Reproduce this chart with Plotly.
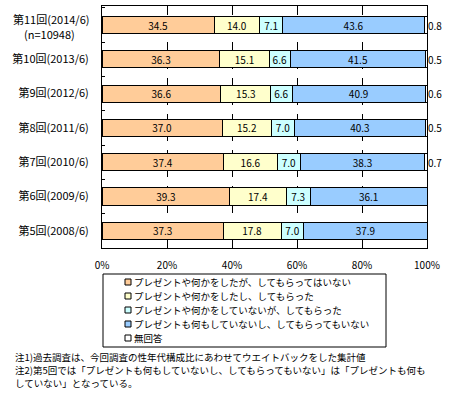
import plotly.graph_objects as go

categories = ["第11回(2014/6)", "第10回(2013/6)", "第9回(2012/6)",
              "第8回(2011/6)", "第7回(2010/6)", "第6回(2009/6)", "第5回(2008/6)"]
sample_size_label = "(n=10948)"
series_names = ["プレゼントや何かをしたが、してもらってはいない",
                "プレゼントや何かをしたし、してもらった",
                "プレゼントや何かをしていないが、してもらった",
                "プレゼントも何もしていないし、してもらってもいない",
                "無回答"]
gave_only = [34.5, 36.3, 36.6, 37.0, 37.4, 39.3, 37.3]
both = [14.0, 15.1, 15.3, 15.2, 16.6, 17.4, 17.8]
received_only = [7.1, 6.6, 6.6, 7.0, 7.0, 7.3, 7.0]
neither = [43.6, 41.5, 40.9, 40.3, 38.3, 36.1, 37.9]
no_answer = [0.8, 0.5, 0.6, 0.5, 0.7, None, None]
x_ticks = [0, 20, 40, 60, 80, 100]
x_ticktext = ["0%", "20%", "40%", "60%", "80%", "100%"]
notes = ["注1)過去調査は、今回調査の性年代構成比にあわせてウエイトバックをした集計値",
         "注2)第5回では「プレゼントも何もしていないし、してもらってもいない」は「プレゼントも何も",
         "していない」となっている。"]

colors = ["#FFCC99", "#FFFFCC", "#CCFFFF", "#99CCFF", "#FFFFFF"]
FONT = "Noto Sans CJK JP"

W, H = 451, 399
L, R, T, B = 102, 427, 6, 248


def px(x):
    return (x - L) / (R - L)


def py(y):
    return (B - y) / (B - T)


fig = go.Figure()
all_series = [gave_only, both, received_only, neither, no_answer]
for i, (name, vals) in enumerate(zip(series_names, all_series)):
    is_last = i == len(all_series) - 1
    fig.add_trace(go.Bar(
        y=categories, x=vals, name=name, orientation="h",
        marker=dict(color=colors[i], line=dict(color="black", width=1)),
        text=None if is_last else [f"{v:.1f}" for v in vals],
        textposition="inside", insidetextanchor="middle", textangle=0,
        textfont=dict(family=FONT, size=10, color="black"),
        showlegend=False, hoverinfo="x+name",
    ))

annotations = []
for cat, v in zip(categories, no_answer):
    if v is not None:
        annotations.append(dict(x=100, y=cat, xref="x", yref="y", text=f"{v:.1f}",
                                showarrow=False, xanchor="left", xshift=-1,
                                font=dict(family=FONT, size=10, color="black")))

# two-line label of the first (latest) survey
annotations.append(dict(x=px(91), y=categories[0], xref="paper", yref="y", text=categories[0],
                        showarrow=False, xanchor="right", yanchor="middle", yshift=6,
                        font=dict(family=FONT, size=11, color="black")))
annotations.append(dict(x=px(49), y=categories[0], xref="paper", yref="y", text=sample_size_label,
                        showarrow=False, xanchor="center", yanchor="middle", yshift=-9,
                        font=dict(family=FONT, size=11, color="black")))
tick_text = [""] + categories[1:]

shapes = []
# legend box
shapes.append(dict(type="rect", xref="paper", yref="paper",
                   x0=px(103), x1=px(386), y0=py(347), y1=py(274),
                   line=dict(color="black", width=1), fillcolor="white"))
for i, name in enumerate(series_names):
    cy = 282 + 14 * i
    shapes.append(dict(type="rect", xref="paper", yref="paper",
                       x0=px(125), x1=px(131), y0=py(cy + 3), y1=py(cy - 3),
                       line=dict(color="black", width=1), fillcolor=colors[i]))
    annotations.append(dict(x=px(132), y=py(cy), xref="paper", yref="paper", text=name,
                            showarrow=False, xanchor="left", yanchor="middle",
                            font=dict(family=FONT, size=9.5, color="black")))

for i, t in enumerate(notes):
    annotations.append(dict(x=px(13), y=py(357 + 13 * i), xref="paper", yref="paper", text=t,
                            showarrow=False, xanchor="left", yanchor="middle",
                            font=dict(family=FONT, size=9.5, color="black")))

fig.update_layout(
    width=W, height=H, barmode="stack", bargap=0.5,
    margin=dict(l=L, r=W - R, t=T, b=H - B, pad=0),
    paper_bgcolor="white", plot_bgcolor="white",
    font=dict(family=FONT, size=10, color="black"),
    uniformtext=dict(minsize=10, mode="show"),
    annotations=annotations, shapes=shapes,
    xaxis=dict(range=[0, 100], tickvals=x_ticks, ticktext=x_ticktext,
               showgrid=True, gridcolor="black", griddash="dash", gridwidth=1,
               showline=True, mirror=True, linecolor="black", linewidth=1,
               zeroline=False, ticks="", ticklabelstandoff=8,
               tickfont=dict(family=FONT, size=10)),
    yaxis=dict(type="category", categoryorder="array", categoryarray=categories,
               tickvals=categories, ticktext=tick_text,
               autorange="reversed", showline=True, mirror=True, linecolor="black",
               linewidth=1, ticks="inside", tickson="boundaries", ticklen=3,
               tickcolor="black", ticklabelstandoff=10,
               tickfont=dict(family=FONT, size=11)),
)

fig.write_html("out.html", config={"displayModeBar": False},
               post_script="document.body.style.margin='0';")
